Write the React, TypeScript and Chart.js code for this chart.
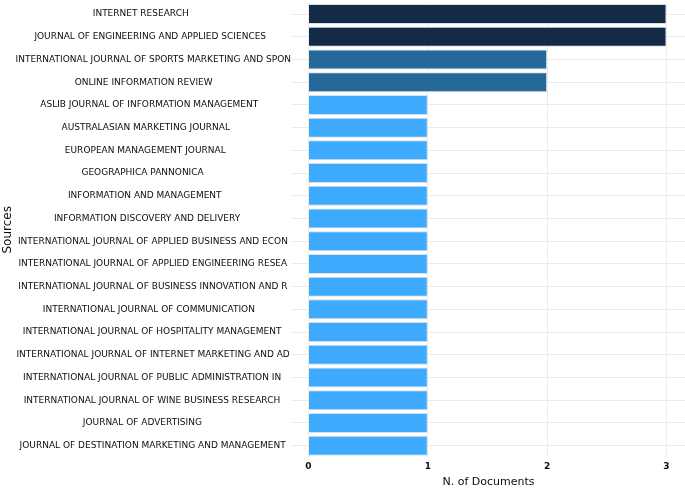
import React, { useEffect, useRef } from "react";
import { Chart, registerables } from "chart.js";

Chart.register(...registerables);

const sources = [
  "INTERNET RESEARCH",
  "JOURNAL OF ENGINEERING AND APPLIED SCIENCES",
  "INTERNATIONAL JOURNAL OF SPORTS MARKETING AND SPON",
  "ONLINE INFORMATION REVIEW",
  "ASLIB JOURNAL OF INFORMATION MANAGEMENT",
  "AUSTRALASIAN MARKETING JOURNAL",
  "EUROPEAN MANAGEMENT JOURNAL",
  "GEOGRAPHICA PANNONICA",
  "INFORMATION AND MANAGEMENT",
  "INFORMATION DISCOVERY AND DELIVERY",
  "INTERNATIONAL JOURNAL OF APPLIED BUSINESS AND ECON",
  "INTERNATIONAL JOURNAL OF APPLIED ENGINEERING RESEA",
  "INTERNATIONAL JOURNAL OF BUSINESS INNOVATION AND R",
  "INTERNATIONAL JOURNAL OF COMMUNICATION",
  "INTERNATIONAL JOURNAL OF HOSPITALITY MANAGEMENT",
  "INTERNATIONAL JOURNAL OF INTERNET MARKETING AND AD",
  "INTERNATIONAL JOURNAL OF PUBLIC ADMINISTRATION IN",
  "INTERNATIONAL JOURNAL OF WINE BUSINESS RESEARCH",
  "JOURNAL OF ADVERTISING",
  "JOURNAL OF DESTINATION MARKETING AND MANAGEMENT",
];

const documents = [3, 3, 2, 2, 1, 1, 1, 1, 1, 1, 1, 1, 1, 1, 1, 1, 1, 1, 1, 1];

const xTicks = [0, 1, 2, 3];

const colorFor = (v: number) =>
  v >= 3 ? "#132b45" : v >= 2 ? "#26689a" : "#3daafe";

const LABEL_FONT = "9px 'DejaVu Sans'";
const TEXT_COLOR = "#0d0d0d";

const sourceLabels = {
  id: "sourceLabels",
  afterDraw(chart: any) {
    const { ctx } = chart;
    const yScale = chart.scales.y;
    ctx.save();
    ctx.font = LABEL_FONT;
    ctx.fillStyle = TEXT_COLOR;
    ctx.textAlign = "center";
    ctx.textBaseline = "middle";
    sources.forEach((label, i) => {
      const y = yScale.getPixelForValue(i);
      const w = ctx.measureText(label).width;
      const x = 134 + 0.07 * w;
      ctx.fillText(label, x, y);
    });
    ctx.restore();
  },
};

export default function App() {
  const ref = useRef<HTMLCanvasElement | null>(null);

  useEffect(() => {
    document.body.style.margin = "0";
    if (!ref.current) return;
    const chart = new Chart(ref.current, {
      type: "bar",
      data: {
        labels: sources,
        datasets: [
          {
            data: documents,
            backgroundColor: documents.map(colorFor),
            borderColor: "#d8e0e8",
            borderWidth: 1,
            barPercentage: 0.88,
            categoryPercentage: 1,
          },
        ],
      },
      plugins: [sourceLabels],
      options: {
        indexAxis: "y",
        animation: false,
        responsive: false,
        maintainAspectRatio: false,
        layout: { padding: { top: 2.7, right: 0, bottom: 0, left: 0 } },
        plugins: { legend: { display: false }, tooltip: { enabled: false } },
        scales: {
          x: {
            type: "linear",
            min: -0.138,
            max: 3.155,
            afterBuildTicks: (axis: any) => {
              axis.ticks = xTicks.map((v) => ({ value: v }));
            },
            afterFit: (axis: any) => {
              axis.height = 31;
            },
            grid: { color: "#ebebeb", drawTicks: false },
            border: { display: false },
            ticks: {
              padding: 4,
              color: TEXT_COLOR,
              font: { family: "DejaVu Sans", size: 9, weight: "bold" },
            },
            title: {
              display: true,
              text: "N. of Documents",
              color: TEXT_COLOR,
              font: { family: "DejaVu Sans", size: 11, lineHeight: 1 },
              padding: { top: 4, bottom: 0 },
            },
          },
          y: {
            grid: { color: "#ebebeb", drawTicks: false, offset: false },
            border: { display: false },
            afterFit: (axis: any) => {
              axis.width = 292;
              axis.paddingTop = 0;
              axis.paddingBottom = 0;
            },
            ticks: {
              display: false,
              autoSkip: false,
            },
            title: {
              display: true,
              text: "Sources",
              color: TEXT_COLOR,
              font: { family: "DejaVu Sans", size: 12 },
              padding: { top: 1, bottom: 0 },
            },
          },
        },
      },
    });
    return () => chart.destroy();
  }, []);

  return <canvas ref={ref} width={685} height={488} style={{ display: "block" }} />;
}
